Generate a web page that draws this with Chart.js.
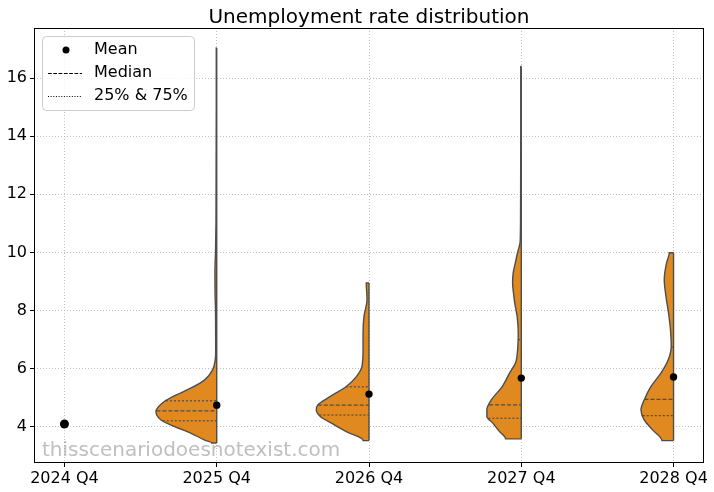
<!DOCTYPE html>
<html>
<head>
<meta charset="utf-8">
<script src="https://cdn.jsdelivr.net/npm/chart.js@4.4.1/dist/chart.umd.min.js"></script>
<style>
  html, body { margin: 0; padding: 0; background: #fff; }
</style>
</head>
<body>
<canvas id="violinChart" width="714" height="492"></canvas>
<script>
// --- data ---
const categories = ['2024 Q4', '2025 Q4', '2026 Q4', '2027 Q4', '2028 Q4'];
const means   = [4.10, 4.75, 5.13, 5.68, 5.72];
const medians = [null, 4.55, 4.75, 4.76, 4.95];
const q25     = [null, 4.21, 4.41, 4.30, 4.39];
const q75     = [null, 4.90, 5.38, 7.00, 6.75];
const yTicks  = [4, 6, 8, 10, 12, 14, 16];

// violin outlines: value levels (top -> bottom) and half width (density) at each level
const levels2025 = [17.03, 15, 13, 11, 10, 9.3, 8.6, 8, 7, 6.5, 6.31, 5.97, 5.62, 5.34, 5.04, 4.83, 4.53, 4.24, 4.01, 3.78, 3.55, 3.45];
const density2025 = [0.003, 0.003, 0.004, 0.005, 0.008, 0.012, 0.011, 0.008, 0.007, 0.007, 0.010, 0.026, 0.079, 0.168, 0.289, 0.355, 0.399, 0.366, 0.276, 0.168, 0.079, 0.033];
const levels2026 = [8.95, 8.38, 7.80, 7.23, 6.66, 6.08, 5.73, 5.39, 5.04, 4.76, 4.59, 4.36, 4.13, 3.84, 3.61, 3.53];
const density2026 = [0.018, 0.013, 0.033, 0.039, 0.039, 0.046, 0.083, 0.149, 0.257, 0.336, 0.346, 0.320, 0.247, 0.149, 0.050, 0.039];
const levels2027 = [16.40, 14.5, 12.5, 11.0, 10.6, 10.34, 10.1, 9.87, 9.64, 9.30, 8.95, 8.60, 8.27, 7.80, 7.24, 6.66, 6.20, 5.85, 5.39, 4.93, 4.59, 4.36, 4.13, 3.84, 3.59];
const density2027 = [0.003, 0.003, 0.004, 0.005, 0.006, 0.008, 0.019, 0.030, 0.039, 0.053, 0.057, 0.051, 0.043, 0.027, 0.020, 0.024, 0.038, 0.077, 0.125, 0.197, 0.226, 0.226, 0.187, 0.143, 0.103];
const levels2028 = [9.99, 9.64, 9.07, 8.49, 7.92, 7.34, 6.77, 6.31, 5.85, 5.39, 4.93, 4.59, 4.24, 3.90, 3.53];
const density2028 = [0.028, 0.046, 0.061, 0.050, 0.033, 0.020, 0.015, 0.035, 0.083, 0.149, 0.193, 0.214, 0.193, 0.138, 0.076];

const violinLevels  = [null, levels2025, levels2026, levels2027, levels2028];
const violinDensity = [null, density2025, density2026, density2027, density2028];

const FONT = "'DejaVu Sans', sans-serif";
const ORANGE = '#df8920';
const EDGE = '#4d4d4d';

Chart.defaults.font.family = FONT;

// half width of violin i at value q (linear between read levels)
function halfWidthAt(i, q) {
    const lv = violinLevels[i], d = violinDensity[i];
    for (let k = 0; k < lv.length - 1; k++) {
        if (q <= lv[k] && q >= lv[k + 1]) {
            const t = (lv[k] - q) / (lv[k] - lv[k + 1]);
            return d[k] + t * (d[k + 1] - d[k]);
        }
    }
    return 0;
}

const datasets = [];

violinLevels.forEach((lv, i) => {
    if (!lv) return;
    const d = violinDensity[i];
    const top = lv[0], bottom = lv[lv.length - 1];
    const pts = [{ x: i, y: top }];
    lv.forEach((v, k) => pts.push({ x: i - d[k], y: v }));
    pts.push({ x: i, y: bottom });

    // left half of the violin
    datasets.push({
        type: 'line',
        indexAxis: 'y',
        data: pts,
        borderColor: EDGE,
        borderWidth: 1.4,
        backgroundColor: ORANGE,
        fill: 'shape',
        cubicInterpolationMode: 'monotone',
        pointRadius: 0,
        order: 3
    });
    // split line in the middle
    datasets.push({
        type: 'line',
        data: [{ x: i, y: bottom }, { x: i, y: top }],
        borderColor: EDGE,
        borderWidth: 1.4,
        pointRadius: 0,
        fill: false,
        order: 2
    });

    // median + quartiles
    [[medians[i], [4, 2]], [q25[i], [2, 2]], [q75[i], [2, 2]]].forEach(([q, dash]) => {
        if (q == null) return;
        datasets.push({
            type: 'line',
            data: [{ x: i - halfWidthAt(i, q), y: q }, { x: i, y: q }],
            borderColor: EDGE,
            borderWidth: 1.2,
            borderDash: dash,
            pointRadius: 0,
            fill: false,
            order: 1
        });
    });
});

// mean dots
datasets.push({
    type: 'line',
    data: means.map((m, i) => ({ x: i, y: m })),
    showLine: false,
    pointRadius: means.map((_, i) => i === 0 ? 4.5 : 3.7),
    pointBackgroundColor: '#000',
    pointBorderWidth: 0,
    order: 0
});

// title, frame, legend and watermark
const decorations = {
    id: 'decorations',
    afterDraw(chart) {
        const { ctx, chartArea: a } = chart;
        ctx.save();

        // frame
        ctx.strokeStyle = '#000';
        ctx.lineWidth = 1;
        ctx.strokeRect(a.left + 0.5, a.top + 0.5, a.right - a.left - 1, a.bottom - a.top - 1);

        // title
        ctx.fillStyle = '#000';
        ctx.font = '20px ' + FONT;
        ctx.textAlign = 'center';
        ctx.textBaseline = 'alphabetic';
        ctx.fillText('Unemployment rate distribution', (a.left + a.right) / 2, 23);

        // watermark
        ctx.fillStyle = 'rgba(128,128,128,0.5)';
        ctx.font = '20px ' + FONT;
        ctx.textAlign = 'left';
        ctx.fillText('thisscenariodoesnotexist.com', a.left + 8, a.bottom - 7);

        // legend box
        const bx = 42.5, by = 36.5, bw = 152, bh = 74;
        ctx.beginPath();
        ctx.roundRect(bx, by, bw, bh, 4);
        ctx.fillStyle = 'rgba(255,255,255,0.8)';
        ctx.fill();
        ctx.strokeStyle = '#cccccc';
        ctx.stroke();

        ctx.font = '16px ' + FONT;
        ctx.textBaseline = 'middle';
        ctx.fillStyle = '#000';
        const rows = [50, 73, 96];
        // Mean
        ctx.beginPath();
        ctx.arc(66, rows[0], 3.5, 0, Math.PI * 2);
        ctx.fill();
        ctx.fillText('Mean', 94, rows[0]);
        // Median
        ctx.strokeStyle = '#000';
        ctx.lineWidth = 1;
        ctx.setLineDash([3.7, 1.6]);
        ctx.beginPath();
        ctx.moveTo(48, rows[1] + 0.5); ctx.lineTo(82, rows[1] + 0.5);
        ctx.stroke();
        ctx.fillText('Median', 94, rows[1]);
        // quartiles
        ctx.setLineDash([1, 1.65]);
        ctx.beginPath();
        ctx.moveTo(48, rows[2] + 0.5); ctx.lineTo(82, rows[2] + 0.5);
        ctx.stroke();
        ctx.setLineDash([]);
        ctx.fillText('25% & 75%', 94, rows[2]);

        ctx.restore();
    }
};

new Chart(document.getElementById('violinChart'), {
    type: 'line',
    data: { datasets },
    options: {
        responsive: false,
        animation: false,
        devicePixelRatio: 1,
        layout: { padding: { top: 28, right: 10, left: 0, bottom: 0 } },
        plugins: { legend: { display: false }, tooltip: { enabled: false } },
        scales: {
            x: {
                type: 'linear',
                min: -0.2,
                max: 4.2,
                afterBuildTicks: s => { s.ticks = categories.map((_, i) => ({ value: i })); },
                afterFit: s => { s.height = 29; },
                ticks: {
                    callback: v => categories[v],
                    color: '#000',
                    font: { size: 16 },
                    padding: 2,
                    maxRotation: 0,
                    autoSkip: false
                },
                grid: { color: '#b0b0b0', lineWidth: 0.8, tickColor: '#000', tickWidth: 1, tickLength: 4, tickBorderDash: [] },
                border: { display: false, dash: [1, 2] }
            },
            y: {
                type: 'linear',
                min: 2.76,
                max: 17.72,
                afterBuildTicks: s => { s.ticks = yTicks.map(v => ({ value: v })); },
                afterFit: s => { s.width = 34; },
                ticks: { color: '#000', font: { size: 16 }, padding: 3 },
                grid: { color: '#b0b0b0', lineWidth: 0.8, tickColor: '#000', tickWidth: 1, tickLength: 4, tickBorderDash: [] },
                border: { display: false, dash: [1, 2] }
            }
        }
    },
    plugins: [decorations]
});
</script>
</body>
</html>
